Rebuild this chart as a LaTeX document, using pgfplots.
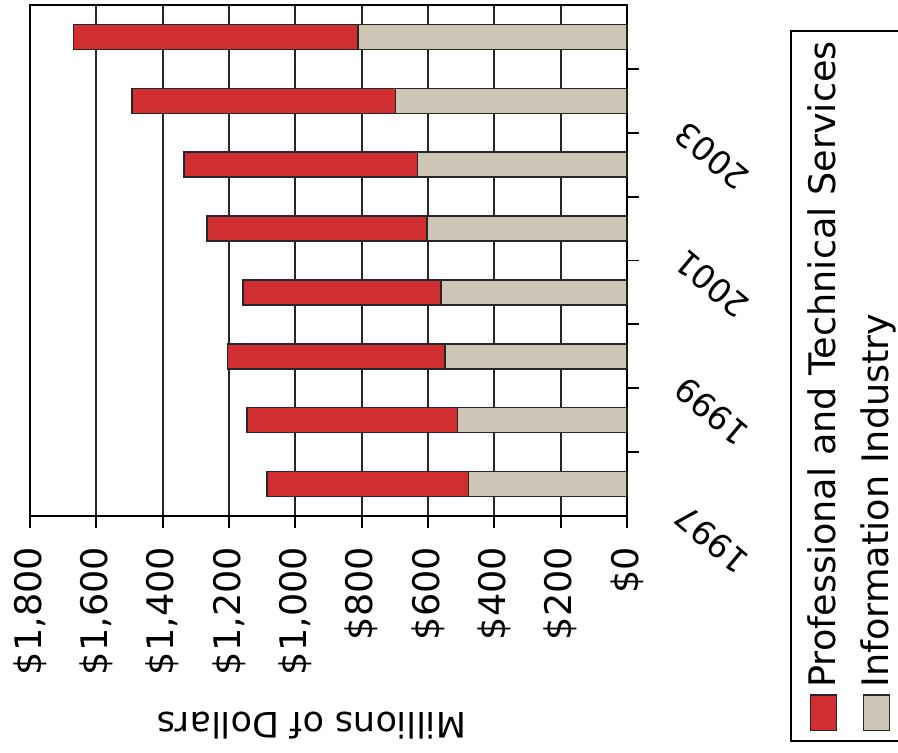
\documentclass[border=0pt]{standalone}
\usepackage{fontspec}
\setmainfont{DejaVu Sans}
\usepackage{pgfplots}
\pgfplotsset{compat=1.18}
\definecolor{profred}{RGB}{208,46,48}
\definecolor{infogray}{RGB}{206,197,183}
\begin{document}
\begin{tikzpicture}
\path[use as bounding box] (0,0) rectangle (449pt,-376.5pt);
\begin{axis}[
  at={(15pt,-2.5pt)}, anchor=north west,
  scale only axis, width=298.5pt, height=255.5pt,
  xbar stacked, bar width=12.5pt,
  xmin=0, xmax=1800, x dir=reverse,
  ymin=-0.5, ymax=7.5,
  axis line style={line width=1pt, black},
  xtick={0,200,...,1800},
  xticklabels={\$0,\$200,\$400,\$600,\$800,{\$1,000},{\$1,200},{\$1,400},{\$1,600},{\$1,800}},
  xmajorgrids, grid style={line width=0.9pt, black!85},
  tick align=outside, xtick pos=bottom, ytick pos=right,
  major tick length=6pt,
  tick style={line width=0.9pt, black},
  xticklabel style={font=\fontsize{18.3}{22}\selectfont, yshift=-6pt, rotate=90, anchor=east},
  ytick={0,2,4,6}, yticklabels={1997,1999,2001,2003},
  yticklabel pos=right,
  y tick style={draw=none},
  extra y ticks={0.5,1.5,...,6.5}, extra y tick labels={},
  extra y tick style={y tick style={draw=black}},
  yticklabel style={font=\fontsize{16.5}{20}\selectfont, inner sep=0pt, xshift=20pt, yshift=-14pt, rotate=140, anchor=east},
  xlabel={Millions of Dollars},
  xlabel style={font=\fontsize{17.5}{21}\selectfont, at={(axis description cs:0.472,-0.41)}, anchor=center, rotate=180},
]
\addplot[fill=infogray, draw=black!85, line width=0.7pt] coordinates {
  (478,0) (511,1) (549,2) (561,3) (603,4) (632,5) (698,6) (811,7)};
\addplot[fill=profred, draw=black!85, line width=0.7pt] coordinates {
  (608,0) (635,1) (655,2) (597,3) (663,4) (704,5) (795,6) (857,7)};
\end{axis}
\setlength{\fboxsep}{0pt}\setlength{\fboxrule}{0.6pt}
\node[draw=black, line width=0.9pt, rotate=90, anchor=north west,
  inner xsep=0pt, inner ysep=8.5pt, minimum width=355pt, align=left,
  font=\fontsize{18.3}{26.5}\selectfont] at (395pt,-371pt)
  {\fcolorbox{black!85}{profred}{\rule{0pt}{12.5pt}\rule{17pt}{0pt}}\hspace{3.5pt}Professional and Technical Services\\
   \fcolorbox{black!85}{infogray}{\rule{0pt}{12.5pt}\rule{17pt}{0pt}}\hspace{3.5pt}Information Industry};
\end{tikzpicture}
\end{document}
